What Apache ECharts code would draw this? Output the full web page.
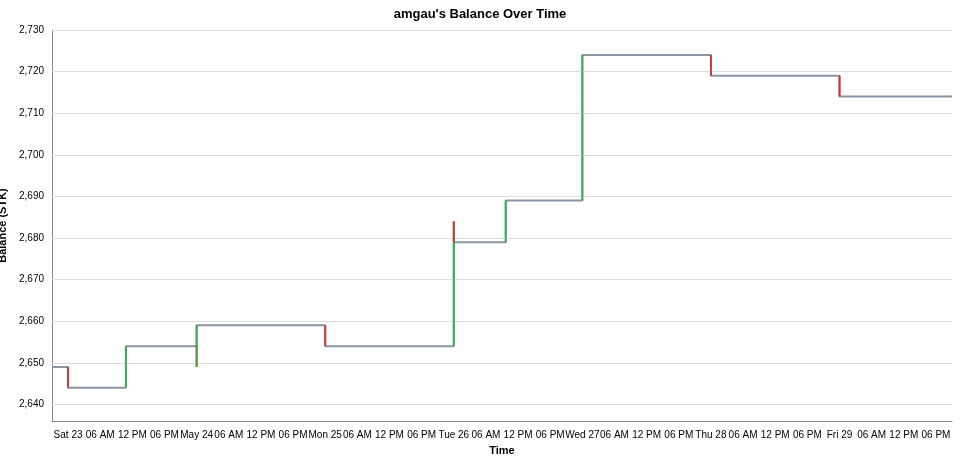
<!DOCTYPE html>
<html><head><meta charset="utf-8">
<script src="https://cdn.jsdelivr.net/npm/echarts@6/dist/echarts.min.js"></script>
<style>html,body{margin:0;padding:0;background:#fff}#c{width:960px;height:459px}</style>
</head><body><div id="c"></div>
<script>
// hours since Sat 23 May 2020 00:00
const balanceHours = [-3, 0, 10.8, 24, 48, 72, 81.7, 96, 120, 144, 165];
const balanceValues = [2649, 2644, 2654, 2659, 2654, 2679, 2689, 2724, 2719, 2714, 2714];
const txHours = [0, 10.8, 24, 24, 48, 72, 72, 81.7, 96, 96, 120, 144];
const txFrom  = [2649, 2644, 2654, 2649, 2659, 2654, 2684, 2679, 2689, 2714, 2724, 2719];
const txTo    = [2644, 2654, 2649, 2659, 2654, 2684, 2679, 2689, 2714, 2724, 2719, 2714];
const dayLabels = ['Sat 23', 'May 24', 'Mon 25', 'Tue 26', 'Wed 27', 'Thu 28', 'Fri 29'];
const hourLabels = {6: '06 AM', 12: '12 PM', 18: '06 PM'};
const yTicks = [2640, 2650, 2660, 2670, 2680, 2690, 2700, 2710, 2720, 2730];

const txData = txHours.map((h, i) => [h, txFrom[i], txTo[i]]);
const font = 'Liberation Sans, Arial, sans-serif';
const chart = echarts.init(document.getElementById('c'));
chart.setOption({
  animation: false,
  title: {text: "amgau's Balance Over Time", left: 'center', top: 3,
    textStyle: {fontFamily: font, fontSize: 13, fontWeight: 'bold', color: '#000'}},
  grid: {left: 52, right: 8, top: 30, bottom: 38, outerBoundsMode: 'none', containLabel: false},
  xAxis: {type: 'value', min: -3, max: 165, interval: 3,
    name: 'Time', nameLocation: 'middle', nameGap: 24,
    nameTextStyle: {fontFamily: font, fontSize: 11, fontWeight: 'bold', color: '#000'},
    axisLine: {show: true, onZero: false, lineStyle: {color: '#888'}},
    axisTick: {show: false}, splitLine: {show: false},
    axisLabel: {fontFamily: font, fontSize: 10, color: '#000', margin: 9,
      showMinLabel: false, showMaxLabel: false,
      formatter: v => { const h = Math.round(v); if (h < 0 || h % 6) return '';
        const d = Math.floor(h / 24), r = h % 24; return r === 0 ? dayLabels[d] : hourLabels[r]; }}},
  yAxis: {type: 'value', min: 2636, max: 2730, interval: 2,
    name: 'Balance (STK)', nameLocation: 'middle', nameGap: 38,
    nameTextStyle: {fontFamily: font, fontSize: 11, fontWeight: 'bold', color: '#000'},
    axisLine: {show: true, onZero: false, lineStyle: {color: '#888'}},
    axisTick: {show: false}, splitLine: {show: false},
    axisLabel: {fontFamily: font, fontSize: 10, color: '#000',
      formatter: v => (Math.round(v) % 10 === 0 ? Math.round(v).toLocaleString('en-US') : '')}},
  series: [
    {type: 'line', data: [], silent: true,
      markLine: {symbol: 'none', silent: true, label: {show: false},
        lineStyle: {color: '#ddd', width: 1, type: 'solid'},
        data: yTicks.map(v => ({yAxis: v}))}},
    {type: 'line', step: 'end', z: 3, symbol: 'none',
      data: balanceHours.map((h, i) => [h, balanceValues[i]]),
      lineStyle: {color: '#8a94a3', width: 2}},
    {type: 'custom', data: txData, z: 5,
      renderItem: (params, api) => {
        const h = api.value(0), a = api.value(1), b = api.value(2);
        const p1 = api.coord([h, a]), p2 = api.coord([h, b]);
        return {type: 'line', shape: {x1: p1[0], y1: p1[1], x2: p2[0], y2: p2[1]},
          style: {stroke: b > a ? '#2eb14a' : '#d62728', lineWidth: 2, opacity: 0.85}};
      }}
  ]
});
</script></body></html>
